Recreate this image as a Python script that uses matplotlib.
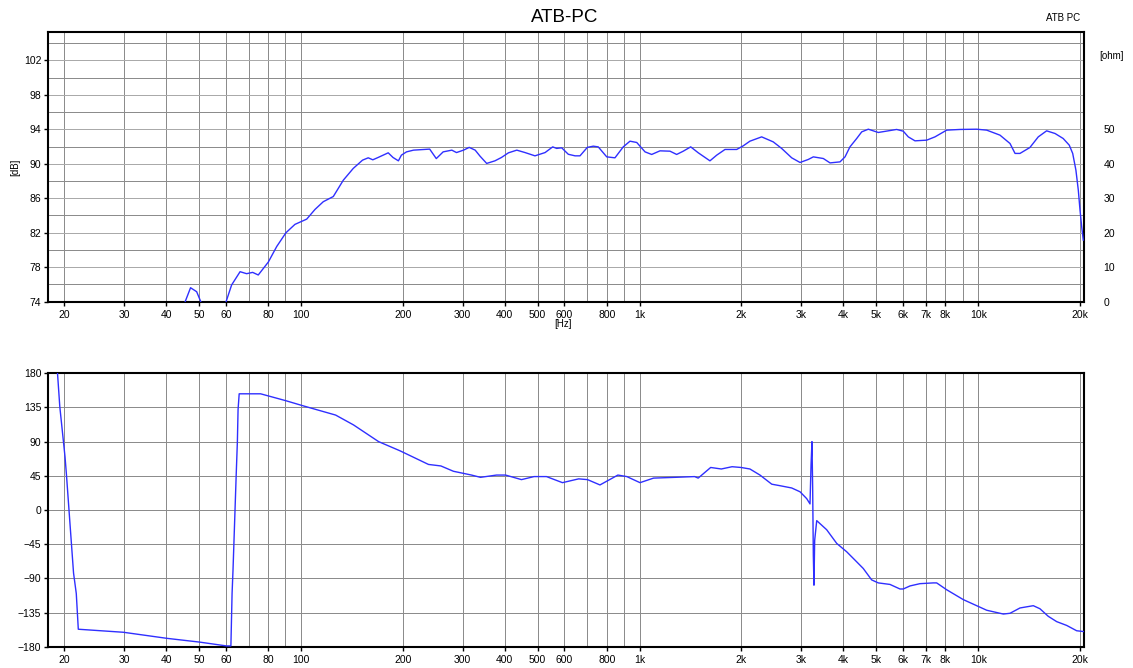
import matplotlib
matplotlib.use('Agg')
import matplotlib.pyplot as plt
from matplotlib.ticker import NullFormatter

plt.rcParams['font.family'] = ['Liberation Sans', 'DejaVu Sans']

# ---- data ----
mag_freq = [44, 45.5, 47.2, 49.2, 50.6, 52, 58, 60.1, 62.4, 66.1,
            69.1, 72.0, 74.8, 80.1, 84.8, 90.3, 96.0, 104, 110, 116.4,
            124.6, 133.4, 142.7, 152, 158, 163, 169, 181, 187, 194,
            198, 205, 215, 240, 251, 263, 279, 288, 302, 314,
            327, 338, 353.6, 374, 391, 410, 434, 459, 491, 526,
            554, 569, 589, 616, 645, 667, 701, 730, 755, 800,
            846, 895, 937, 981, 1038, 1086, 1149, 1230, 1287, 1346,
            1416, 1491, 1614, 1690, 1788, 1936, 2024, 2118, 2294, 2482,
            2628, 2814, 2978, 3150, 3260, 3489, 3652, 3909, 4044, 4182,
            4378, 4530, 4738, 5070, 5745, 6010, 6218, 6508, 7048, 7456,
            8072, 8836, 9900, 10600, 11600, 12420, 12850, 13290, 14220, 15050,
            15930, 16870, 17830, 18580, 19020, 19440, 19760, 19990, 20220, 20440]
mag_db = [72, 74, 75.62, 75.16, 74, 72, 72, 74, 75.94, 77.48,
          77.25, 77.4, 77.1, 78.6, 80.4, 82.0, 82.97, 83.58, 84.7, 85.6,
          86.2, 88.1, 89.46, 90.42, 90.69, 90.46, 90.73, 91.27, 90.73, 90.34,
          91.0, 91.38, 91.58, 91.7, 90.6, 91.38, 91.58, 91.3, 91.58, 91.9,
          91.58, 90.88, 90.04, 90.34, 90.73, 91.27, 91.58, 91.3, 90.92, 91.3,
          91.96, 91.78, 91.85, 91.1, 90.92, 90.92, 91.9, 92.04, 91.96, 90.8,
          90.69, 91.96, 92.62, 92.47, 91.38, 91.08, 91.5, 91.46, 91.08, 91.46,
          91.96, 91.27, 90.34, 91.0, 91.66, 91.66, 92.08, 92.62, 93.12, 92.54,
          91.78, 90.69, 90.15, 90.5, 90.8, 90.61, 90.1, 90.22, 90.8, 91.96,
          92.93, 93.7, 94.01, 93.63, 93.98, 93.78, 93.12, 92.66, 92.74, 93.12,
          93.9, 93.98, 94.01, 93.9, 93.32, 92.35, 91.2, 91.2, 91.89, 93.12,
          93.82, 93.51, 92.93, 92.16, 91.2, 89.26, 86.94, 84.63, 82.69, 81.15]

phase_freq = [19.1, 19.4, 20.1, 20.3, 21.3, 21.7, 22.0, 29.9, 40.2, 50.3,
              60.3, 62.1, 62.6, 63.0, 64.4, 64.9, 65.2, 65.7, 76, 90.1,
              101.8, 126.6, 143, 169.6, 196, 216, 238, 259, 282, 319,
              339, 378, 402, 448, 488, 531, 592, 661, 702, 764,
              863, 917, 1003, 1100, 1272, 1454, 1490, 1622, 1744, 1876,
              1994, 2118, 2268, 2457, 2598, 2814, 2978, 3116, 3187, 3210,
              3230, 3245, 3260, 3274, 3290, 3336, 3570, 3822, 4090, 4328,
              4578, 4846, 5070, 5490, 5876, 6010, 6290, 6731, 7370, 7542,
              8072, 9038, 9900, 10600, 11870, 12420, 13290, 14550, 15220, 16110,
              17060, 18260, 19540, 20440]
phase_deg = [180, 136, 70, 46, -83, -110, -157, -161, -169, -174,
             -179, -179, -110, -79, 48, 90, 132, 153, 153, 144,
             137, 125, 112, 90, 78, 69, 60, 58, 51, 46,
             43, 46, 46, 40, 44, 44, 36, 41, 40, 33,
             46, 44, 36, 42, 43, 44, 42, 56, 54, 57,
             56, 54, 46, 34, 32, 29, 24, 15, 8, 60,
             90, 30, -60, -99, -40, -14, -26, -44, -55, -66,
             -77, -92, -96, -98, -104, -104, -100, -97, -96, -96,
             -105, -118, -126, -132, -137, -136, -129, -126, -130, -140,
             -147, -152, -159, -160]

freq_ticks = [20, 30, 40, 50, 60, 80, 100, 200, 300, 400, 500, 600, 800,
              1000, 2000, 3000, 4000, 5000, 6000, 7000, 8000, 10000, 20000]
freq_labels = ['20', '30', '40', '50', '60', '80', '100', '200', '300', '400',
               '500', '600', '800', '1k', '2k', '3k', '4k', '5k', '6k', '7k',
               '8k', '10k', '20k']
grid_freqs = [20, 30, 40, 50, 60, 70, 80, 90, 100, 200, 300, 400, 500, 600,
              700, 800, 900, 1000, 2000, 3000, 4000, 5000, 6000, 7000, 8000,
              9000, 10000, 20000]
db_ticks = [74, 78, 82, 86, 90, 94, 98, 102]
db_minor = [76, 80, 84, 88, 92, 96, 100, 104]
ohm_ticks = [0, 10, 20, 30, 40, 50]
deg_ticks = [-180, -135, -90, -45, 0, 45, 90, 135, 180]

# ---- styling ----
W, H = 1133, 668
XMIN, XMAX = 17.94, 20540
DB_MIN, DB_MAX = 74, 105.25
LINE_COLOR = '#2f2fff'
GRID_COLOR = '#8c8c8c'
TICK_FS = 7.5

fig = plt.figure(figsize=(W / 100, H / 100), dpi=100)
fig.patch.set_facecolor('white')

left = 48.3 / W
width = (1084 - 48.3) / W
ax1 = fig.add_axes([left, (H - 301.7) / H, width, (301.7 - 32.3) / H])
ax3 = fig.add_axes([left, (H - 646.7) / H, width, (646.7 - 373.3) / H])

GKW = dict(lw=0.72, antialiased=False)


def style_axis(ax):
    ax.set_xscale('log')
    ax.set_xlim(XMIN, XMAX)
    ax.set_xticks(freq_ticks)
    ax.set_xticklabels(freq_labels)
    ax.set_xticks(grid_freqs, minor=True)
    ax.xaxis.set_minor_formatter(NullFormatter())
    ax.tick_params(axis='x', which='minor', length=0)
    ax.tick_params(axis='both', which='major', direction='out', length=3,
                   width=1, labelsize=TICK_FS, pad=2, colors='black')
    ax.tick_params(axis='x', which='major', pad=3)
    ax.grid(True, which='minor', axis='x', color=GRID_COLOR, **GKW)
    ax.grid(True, which='major', axis='x', color=GRID_COLOR, **GKW)
    for s in ax.spines.values():
        s.set_color('black')
        s.set_linewidth(1.5)
    ax.set_axisbelow(True)


# ---- magnitude ----
style_axis(ax1)
ax1.set_ylim(DB_MIN, DB_MAX)
ax1.set_yticks(db_ticks)
ax1.set_yticks(db_minor, minor=True)
ax1.tick_params(axis='y', which='minor', length=0)
ax1.grid(True, which='major', axis='y', color='#aaaaaa', **GKW)
ax1.grid(True, which='minor', axis='y', color='#8c8c8c', **GKW)
ax1.plot(mag_freq, mag_db, color=LINE_COLOR, lw=1.0, clip_on=True, zorder=3)

ax2 = ax1.twinx()
ax2.set_ylim(0, (DB_MAX - DB_MIN) * 2.5)
ax2.set_yticks(ohm_ticks)
ax2.tick_params(axis='y', length=0, pad=14, labelsize=TICK_FS)
for s in ax2.spines.values():
    s.set_visible(False)

# ---- phase ----
style_axis(ax3)
ax3.set_ylim(-180, 180)
ax3.set_yticks(deg_ticks)
ax3.grid(True, which='major', axis='y', color=GRID_COLOR, **GKW)
ax3.plot(phase_freq, phase_deg, color=LINE_COLOR, lw=1.0, zorder=3)

# ---- texts ----
fig.text(565 / W, 1 - 18 / H, 'ATB-PC', ha='center', va='center', fontsize=13.5)
fig.text(1063 / W, 1 - 18 / H, 'ATB PC', ha='center', va='center', fontsize=7)
fig.text(1112 / W, 1 - 56 / H, '[ohm]', ha='center', va='center', fontsize=7)
fig.text(15 / W, 1 - 167 / H, '[dB]', ha='center', va='center', fontsize=7,
         rotation=90)
fig.text(563 / W, 1 - 324 / H, '[Hz]', ha='center', va='center', fontsize=7)

fig.savefig('out.png', dpi=100, facecolor='white')
